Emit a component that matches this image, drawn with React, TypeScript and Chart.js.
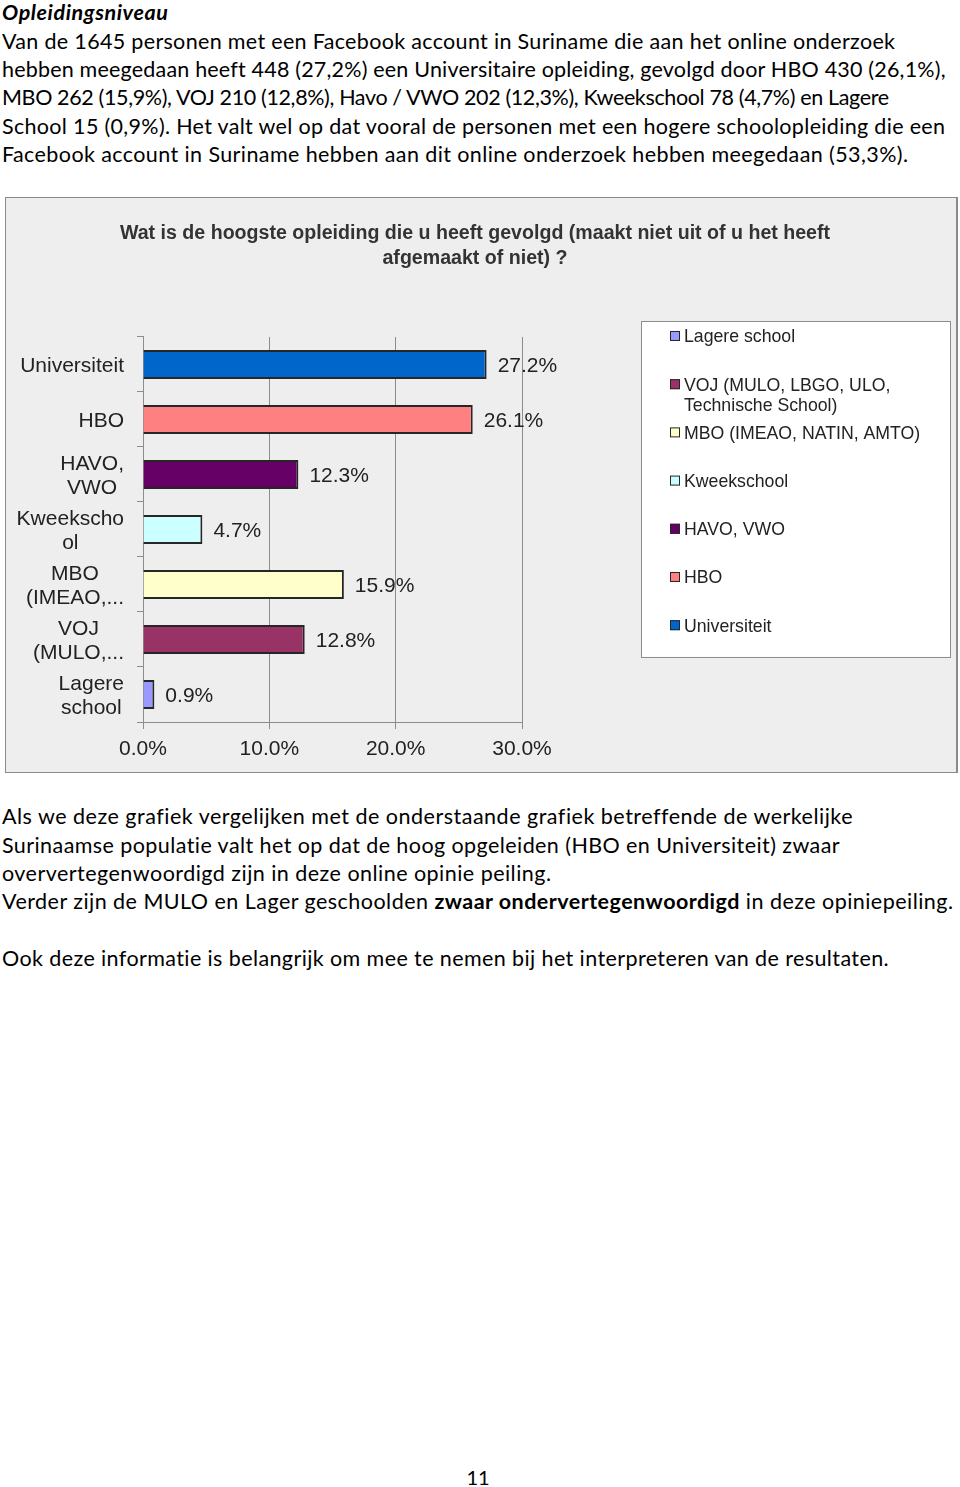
import React, { useEffect, useLayoutEffect, useRef } from "react";
import { Chart, registerables } from "chart.js";

Chart.register(...registerables);

// ---------- Data ----------
const CHART_TITLE = [
  "Wat is de hoogste opleiding die u heeft gevolgd (maakt niet uit of u het heeft",
  "afgemaakt of niet) ?",
];
const CATEGORY_LABELS: string[][] = [
  ["Universiteit"],
  ["HBO"],
  ["HAVO,", "VWO"],
  ["Kweekscho", "ol"],
  ["MBO", "(IMEAO,..."],
  ["VOJ", "(MULO,..."],
  ["Lagere", "school"],
];
const LEGEND_LABELS: string[][] = [
  ["Universiteit"],
  ["HBO"],
  ["HAVO, VWO"],
  ["Kweekschool"],
  ["MBO (IMEAO, NATIN, AMTO)"],
  ["VOJ (MULO, LBGO, ULO,", "Technische School)"],
  ["Lagere school"],
];
const VALUES = [27.2, 26.1, 12.3, 4.7, 15.9, 12.8, 0.9];
const BAR_COLORS = ["#0066cc", "#ff8080", "#660066", "#ccffff", "#ffffcc", "#993366", "#9999ff"];
const X_TICKS = [0, 10, 20, 30];

type Seg = [string, boolean];
const TEXT_LINES: { segs: Seg[]; y: number; right: number; italic?: boolean }[] = [
  { segs: [["Opleidingsniveau", true]], y: 12, right: 168, italic: true },
  { segs: [["Van de 1645 personen met een Facebook account in Suriname die aan het online onderzoek", false]], y: 41, right: 895 },
  { segs: [["hebben meegedaan heeft 448 (27,2%) een Universitaire opleiding, gevolgd door HBO 430 (26,1%),", false]], y: 69, right: 945 },
  { segs: [["MBO 262 (15,9%), VOJ 210 (12,8%), Havo / VWO 202 (12,3%), Kweekschool 78 (4,7%) en Lagere", false]], y: 97, right: 889 },
  { segs: [["School 15 (0,9%). Het valt wel op dat vooral de personen met een hogere schoolopleiding die een", false]], y: 126, right: 945 },
  { segs: [["Facebook account in Suriname hebben aan dit online onderzoek hebben meegedaan (53,3%).", false]], y: 154, right: 908 },
  { segs: [["Als we deze grafiek vergelijken met de onderstaande grafiek betreffende de werkelijke", false]], y: 816, right: 851 },
  { segs: [["Surinaamse populatie valt het op dat de hoog opgeleiden (HBO en Universiteit) zwaar", false]], y: 845, right: 840 },
  { segs: [["oververtegenwoordigd zijn in deze online opinie peiling.", false]], y: 873, right: 551 },
  {
    segs: [
      ["Verder zijn de MULO en Lager geschoolden ", false],
      ["zwaar ondervertegenwoordigd", true],
      [" in deze opiniepeiling.", false],
    ],
    y: 901,
    right: 953,
  },
  { segs: [["Ook deze informatie is belangrijk om mee te nemen bij het interpreteren van de resultaten.", false]], y: 958, right: 889 },
];
const PAGE_NUMBER = "11";

const CHART_FONT = '"Liberation Sans", Arial, sans-serif';
const TEXT_COLOR = "#222222";
const AXIS_GRAY = "#8c8c8c";

// ---------- Plugins ----------
const categoryLabelPlugin = {
  id: "categoryLabels",
  afterDraw(chart: any) {
    const ctx = chart.ctx;
    const yScale = chart.scales.y;
    ctx.save();
    ctx.font = `21px ${CHART_FONT}`;
    ctx.fillStyle = TEXT_COLOR;
    ctx.textAlign = "center";
    ctx.textBaseline = "middle";
    const lh = 24;
    CATEGORY_LABELS.forEach((lines, i) => {
      const yc = yScale.getPixelForValue(i) + 2;
      const bw = Math.max(...lines.map((l) => ctx.measureText(l).width));
      const right = Math.min(yScale.right - 19 + Math.max(0, bw - 108) * 1.5, yScale.right - 6);
      const cx = right - bw / 2;
      lines.forEach((l, j) => {
        ctx.fillText(l, cx, yc + (j - (lines.length - 1) / 2) * lh);
      });
    });
    ctx.restore();
  },
};

const valueLabelPlugin = {
  id: "valueLabels",
  afterDatasetsDraw(chart: any) {
    const ctx = chart.ctx;
    const meta = chart.getDatasetMeta(0);
    ctx.save();
    ctx.font = `21px ${CHART_FONT}`;
    ctx.fillStyle = TEXT_COLOR;
    ctx.textAlign = "left";
    ctx.textBaseline = "middle";
    meta.data.forEach((bar: any, i: number) => {
      ctx.fillText(VALUES[i].toFixed(1) + "%", bar.x + 11, bar.y + 2);
    });
    ctx.restore();
  },
};

const legendBoxPlugin = {
  id: "legendBox",
  afterDraw(chart: any) {
    const ctx = chart.ctx;
    const area = chart.chartArea;
    const bx = area.right + 119;
    const by = area.top - 16;
    const bw = 310;
    const bh = 337;
    ctx.save();
    ctx.fillStyle = "#ffffff";
    ctx.fillRect(bx, by, bw, bh);
    ctx.strokeStyle = AXIS_GRAY;
    ctx.lineWidth = 1;
    ctx.strokeRect(bx + 0.5, by + 0.5, bw - 1, bh - 1);
    ctx.font = `17.7px ${CHART_FONT}`;
    ctx.textAlign = "left";
    ctx.textBaseline = "middle";
    const n = LEGEND_LABELS.length;
    for (let k = 0; k < n; k++) {
      const idx = n - 1 - k;
      const yc = by + 15 + k * 48.2;
      ctx.fillStyle = BAR_COLORS[idx];
      ctx.fillRect(bx + 29, yc - 5, 10, 10);
      ctx.strokeStyle = "#262626";
      ctx.lineWidth = 1;
      ctx.strokeRect(bx + 29.5, yc - 4.5, 9, 9);
      ctx.fillStyle = TEXT_COLOR;
      LEGEND_LABELS[idx].forEach((line, j) => {
        ctx.fillText(line, bx + 43, yc + 1.5 + j * 20.5);
      });
    }
    ctx.restore();
  },
};

// ---------- Components ----------
function BarChart() {
  const ref = useRef<HTMLCanvasElement | null>(null);
  useEffect(() => {
    if (!ref.current) return;
    const chart = new Chart(ref.current, {
      type: "bar",
      data: {
        labels: CATEGORY_LABELS.map((l) => l.join(" ")),
        datasets: [
          {
            data: VALUES,
            backgroundColor: BAR_COLORS,
            borderColor: "#262626",
            borderWidth: 2,
            barPercentage: 0.53,
            categoryPercentage: 1,
          },
        ],
      },
      options: {
        indexAxis: "y",
        animation: false,
        responsive: false,
        devicePixelRatio: 1,
        layout: { padding: { left: 0, right: 12, top: 0, bottom: 0 } },
        plugins: {
          legend: { display: false },
          tooltip: { enabled: false },
          title: {
            display: true,
            text: CHART_TITLE,
            color: "#333333",
            font: { family: CHART_FONT, size: 19.6, weight: "bold", lineHeight: 1.27 },
            padding: { top: 23, bottom: 66.2 },
          },
        },
        scales: {
          x: {
            type: "linear",
            min: 0,
            max: 30,
            afterBuildTicks: (s: any) => {
              s.ticks = X_TICKS.map((v) => ({ value: v }));
            },
            ticks: {
              callback: (v: any) => Number(v).toFixed(1) + "%",
              color: TEXT_COLOR,
              font: { family: CHART_FONT, size: 21 },
              padding: 8,
              maxRotation: 0,
            },
            grid: { color: AXIS_GRAY, tickLength: 7, lineWidth: 1 },
            border: { color: AXIS_GRAY },
            afterFit: (s: any) => {
              s.height = 50;
            },
          },
          y: {
            type: "category",
            offset: true,
            ticks: { display: false },
            grid: { drawOnChartArea: false, offset: true, tickLength: 6, color: AXIS_GRAY },
            border: { color: AXIS_GRAY },
            afterFit: (s: any) => {
              s.width = 137;
            },
          },
          y2: {
            type: "linear",
            position: "right",
            display: true,
            grid: { display: false },
            ticks: { display: false },
            border: { display: false },
            afterFit: (s: any) => {
              s.width = 422;
            },
          },
        },
      } as any,
      plugins: [categoryLabelPlugin, valueLabelPlugin, legendBoxPlugin],
    });
    return () => chart.destroy();
  }, []);
  return (
    <div
      style={{
        position: "absolute",
        left: 5,
        top: 197,
        width: 950,
        height: 574,
        border: "1px solid #8a8a8a",
        borderRightWidth: 2,
        background: "#eeeeee",
      }}
    >
      <canvas ref={ref} width={950} height={574} style={{ display: "block", background: "#eeeeee" }} />
    </div>
  );
}

function TextLines() {
  const refs = useRef<(HTMLDivElement | null)[]>([]);
  useLayoutEffect(() => {
    const base = 20;
    // measure all lines at the base size, derive one common font size
    let sumT = 0;
    let sumW = 0;
    const widths: number[] = [];
    TEXT_LINES.forEach((line, i) => {
      const el = refs.current[i];
      if (!el) return;
      el.style.letterSpacing = "0px";
      el.style.fontSize = base + "px";
      const w = el.getBoundingClientRect().width;
      widths[i] = w;
      if (i > 0) {
        sumT += line.right - 2;
        sumW += w;
      }
    });
    const size = Math.min(base * (sumT / sumW), 21.5);
    TEXT_LINES.forEach((line, i) => {
      const el = refs.current[i];
      if (!el) return;
      el.style.fontSize = size + "px";
      const w0 = el.getBoundingClientRect().width;
      const n = (el.textContent || "").length;
      const ls = (line.right - 2 - w0) / Math.max(1, n - 1);
      el.style.letterSpacing = ls + "px";
    });
  }, []);
  return (
    <>
      {TEXT_LINES.map((line, i) => (
        <div
          key={i}
          ref={(el) => {
            refs.current[i] = el;
          }}
          style={{
            position: "absolute",
            left: 2,
            top: line.y - 14,
            height: 28,
            lineHeight: "28px",
            whiteSpace: "nowrap",
            fontFamily: "Lato, sans-serif",
            fontSize: 20,
            color: "#000",
            fontStyle: line.italic ? "italic" : "normal",
          }}
        >
          {line.segs.map((s, j) => (
            <span key={j} style={{ fontWeight: s[1] ? 700 : 400 }}>
              {s[0]}
            </span>
          ))}
        </div>
      ))}
    </>
  );
}

export default function App() {
  return (
    <div style={{ position: "absolute", left: 0, top: 0, width: 960, height: 1487, background: "#fff" }}>
      <TextLines />
      <BarChart />
      <div
        style={{
          position: "absolute",
          left: 0,
          width: 956,
          top: 1463,
          height: 28,
          lineHeight: "28px",
          textAlign: "center",
          fontFamily: "Lato, sans-serif",
          fontSize: 20,
          color: "#000",
        }}
      >
        {PAGE_NUMBER}
      </div>
    </div>
  );
}
